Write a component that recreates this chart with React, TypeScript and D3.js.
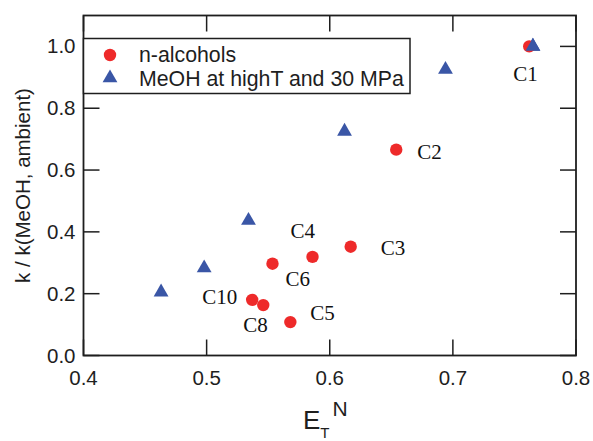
import React, { useEffect, useRef } from "react";
import * as d3 from "d3";

// n-alcohols (red circles)
const alcoholNames = ["C1", "C2", "C3", "C4", "C6", "C10", "C8", "C5"];
const alcoholET = [0.762, 0.654, 0.617, 0.586, 0.5535, 0.537, 0.546, 0.568];
const alcoholK = [1.0, 0.666, 0.352, 0.319, 0.297, 0.18, 0.163, 0.108];

// MeOH at high T and 30 MPa (blue triangles)
const meohET = [0.765, 0.694, 0.612, 0.534, 0.498, 0.463];
const meohK = [1.0, 0.925, 0.725, 0.437, 0.283, 0.205];

const xTicks = [0.4, 0.5, 0.6, 0.7, 0.8];
const yTicks = [0.0, 0.2, 0.4, 0.6, 0.8, 1.0];

// label placement relative to its point (px): [dx, dy, anchor]
const labelOffsets: Record<string, [number, number, string]> = {
  C1: [-16, 35, "start"],
  C2: [21, 9, "start"],
  C3: [30, 8, "start"],
  C4: [-22, -19, "start"],
  C6: [13, 22, "start"],
  C10: [-15, 4, "end"],
  C8: [-20, 27, "start"],
  C5: [20, -2, "start"],
};

const W = 593, H = 441;
const margin = { left: 83.5, right: 17, top: 15.5, bottom: 85.5 };
const RED = "#ee2a2a";
const BLUE = "#3a56a6";
const INK = "#1e1e1e";
const SANS = "Liberation Sans, Arial, sans-serif";
const SERIF = "Liberation Serif, Times New Roman, serif";

function draw(node: SVGSVGElement) {
  const svg = d3.select(node);
  svg.selectAll("*").remove();

  const x = d3.scaleLinear().domain([0.4, 0.8]).range([margin.left, W - margin.right]);
  const y = d3.scaleLinear().domain([0, 1.1]).range([H - margin.bottom, margin.top]);
  const tick = 16;

  const g = svg.append("g");

  // frame
  g.append("rect")
    .attr("x", x(0.4)).attr("y", y(1.1))
    .attr("width", x(0.8) - x(0.4)).attr("height", y(0) - y(1.1))
    .attr("fill", "none").attr("stroke", INK).attr("stroke-width", 1.8);

  // bottom / top ticks (inward)
  xTicks.forEach((t) => {
    g.append("line").attr("x1", x(t)).attr("x2", x(t))
      .attr("y1", y(0)).attr("y2", y(0) - tick)
      .attr("stroke", INK).attr("stroke-width", 1.5);
    g.append("line").attr("x1", x(t)).attr("x2", x(t))
      .attr("y1", y(1.1)).attr("y2", y(1.1) + tick)
      .attr("stroke", INK).attr("stroke-width", 1.5);
    g.append("text").attr("x", x(t)).attr("y", y(0) + 29)
      .attr("text-anchor", "middle").attr("font-family", SANS).attr("font-size", 20.5)
      .attr("fill", INK).text(t.toFixed(1));
  });

  yTicks.forEach((t) => {
    g.append("line").attr("x1", x(0.4)).attr("x2", x(0.4) + tick)
      .attr("y1", y(t)).attr("y2", y(t))
      .attr("stroke", INK).attr("stroke-width", 1.5);
    g.append("line").attr("x1", x(0.8)).attr("x2", x(0.8) - tick)
      .attr("y1", y(t)).attr("y2", y(t))
      .attr("stroke", INK).attr("stroke-width", 1.5);
    g.append("text").attr("x", x(0.4) - 8).attr("y", y(t) + 7)
      .attr("text-anchor", "end").attr("font-family", SANS).attr("font-size", 20.5)
      .attr("fill", INK).text(t.toFixed(1));
  });

  // axis titles
  g.append("text")
    .attr("transform", `translate(30, ${(y(0) + y(1.1)) / 2}) rotate(-90)`)
    .attr("text-anchor", "middle").attr("font-family", SANS).attr("font-size", 20.5)
    .attr("fill", INK).text("k / k(MeOH, ambient)");

  const xl = g.append("text").attr("x", 303).attr("y", 429)
    .attr("font-family", SANS).attr("font-size", 26).attr("fill", INK);
  xl.append("tspan").text("E");
  xl.append("tspan").attr("font-size", 15).attr("dy", 9).text("T");
  xl.append("tspan").attr("font-size", 21).attr("dx", 3).attr("dy", -22).text("N");

  // triangles
  const tri = d3.symbol().type(d3.symbolTriangle).size(95);
  g.selectAll(".meoh").data(meohET).enter().append("path")
    .attr("class", "meoh")
    .attr("transform", (d, i) => `translate(${x(d)}, ${y(meohK[i])})`)
    .attr("d", tri as any).attr("fill", BLUE);

  // circles (C1 circle under triangle)
  g.selectAll(".alc").data(alcoholET).enter().append("circle")
    .attr("class", "alc")
    .attr("cx", (d) => x(d)).attr("cy", (d, i) => y(alcoholK[i]))
    .attr("r", 6.2).attr("fill", RED);
  // redraw C1 triangle on top
  g.append("path")
    .attr("transform", `translate(${x(meohET[0])}, ${y(meohK[0])})`)
    .attr("d", tri as any).attr("fill", BLUE);

  // labels
  alcoholNames.forEach((n, i) => {
    const [dx, dy, anchor] = labelOffsets[n];
    g.append("text")
      .attr("x", x(alcoholET[i]) + dx).attr("y", y(alcoholK[i]) + dy)
      .attr("text-anchor", anchor).attr("font-family", SERIF).attr("font-size", 21)
      .attr("fill", "#111").text(n);
  });

  // legend
  const lg = g.append("g");
  lg.append("rect").attr("x", x(0.4)).attr("y", 38.5).attr("width", 326.5).attr("height", 55)
    .attr("fill", "white").attr("stroke", INK).attr("stroke-width", 1.5);
  lg.append("circle").attr("cx", 110).attr("cy", 55).attr("r", 6.2).attr("fill", RED);
  lg.append("path").attr("transform", "translate(110, 78)").attr("d", tri as any).attr("fill", BLUE);
  lg.append("text").attr("x", 139).attr("y", 62).attr("font-family", SANS).attr("font-size", 21.3)
    .attr("fill", INK).text("n-alcohols");
  lg.append("text").attr("x", 139).attr("y", 86).attr("font-family", SANS).attr("font-size", 21.3)
    .attr("fill", INK).text("MeOH at highT and 30 MPa");
}

export default function App() {
  const ref = useRef<SVGSVGElement>(null);
  useEffect(() => {
    if (ref.current) draw(ref.current);
  });
  return (
    <svg ref={ref} width={W} height={H}
      style={{ position: "absolute", left: 0, top: 0, background: "white" }} />
  );
}
